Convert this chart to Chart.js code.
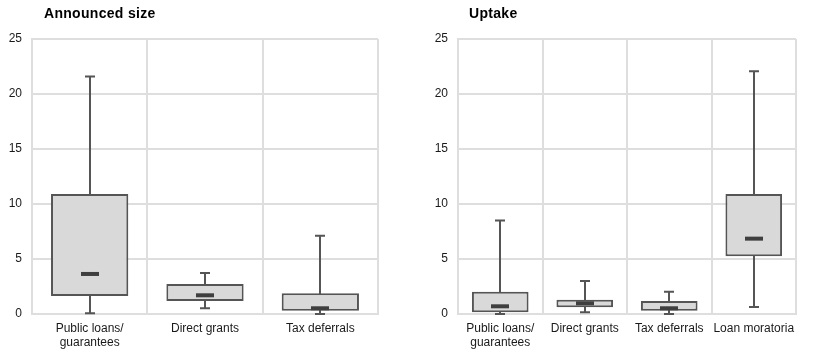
<!DOCTYPE html>
<html>
<head>
<meta charset="utf-8">
<script src="https://cdn.jsdelivr.net/npm/chart.js@4.4.0/dist/chart.umd.min.js"></script>
<style>
  body { margin: 0; background: #fff; font-family: "Liberation Sans", Arial, sans-serif; }
  #wrap { position: relative; width: 827px; height: 362px; }
  .panel { position: absolute; top: 0; }
  .title { position: absolute; top: 5px; font-weight: bold; font-size: 14px; letter-spacing: 0.3px; line-height: 16px; color: #000; }
</style>
</head>
<body>
<div id="wrap">
  <div class="panel" style="left:0"><canvas id="chartLeft" width="410" height="362"></canvas></div>
  <div class="panel" style="left:410px"><canvas id="chartRight" width="417" height="362"></canvas></div>
  <div class="title" style="left:44px">Announced size</div>
  <div class="title" style="left:469px">Uptake</div>
</div>
<script>
// Announced size
const leftCats = [["Public loans/", "guarantees"], "Direct grants", "Tax deferrals"];
const leftMin = [0.06, 0.52, 0];
const leftQ1 = [1.64, 1.18, 0.3];
const leftMed = [3.64, 1.7, 0.52];
const leftQ3 = [10.9, 2.73, 1.88];
const leftMax = [21.6, 3.73, 7.12];

// Uptake
const rightCats = [["Public loans/", "guarantees"], "Direct grants", "Tax deferrals", "Loan moratoria"];
const rightMin = [0, 0.15, 0, 0.64];
const rightQ1 = [0.15, 0.61, 0.3, 5.24];
const rightMed = [0.7, 0.97, 0.52, 6.85];
const rightQ3 = [2.03, 1.3, 1.18, 10.9];
const rightMax = [8.5, 3.0, 2.03, 22.06];

const yMin = 0, yMax = 25, yStep = 5;

const gridColor = "#dedede";
const boxLine = "#555555";

// whiskers, caps and median marks drawn on the chart scales
const boxExtras = {
  id: "boxExtras",
  afterDatasetsDraw(chart, args, opts) {
    const ctx = chart.ctx;
    const y = chart.scales.y;
    const meta = chart.getDatasetMeta(0);
    ctx.save();
    meta.data.forEach((bar, i) => {
      const x = Math.round(bar.x);
      const yLo = y.getPixelForValue(opts.min[i]);
      const yQ1 = y.getPixelForValue(opts.q1[i]);
      const yQ3 = y.getPixelForValue(opts.q3[i]);
      const yHi = y.getPixelForValue(opts.max[i]);
      ctx.strokeStyle = boxLine;
      ctx.lineWidth = 2;
      ctx.beginPath();
      ctx.moveTo(x, yQ3 + 1); ctx.lineTo(x, yHi);
      ctx.moveTo(x - 5, yHi); ctx.lineTo(x + 5, yHi);
      ctx.moveTo(x, yQ1 - 1); ctx.lineTo(x, yLo);
      ctx.moveTo(x - 5, yLo); ctx.lineTo(x + 5, yLo);
      ctx.stroke();
      const yM = y.getPixelForValue(opts.med[i]);
      ctx.fillStyle = "#3f3f3f";
      ctx.fillRect(x - 9, yM - 2, 18, 4);
    });
    ctx.restore();
  }
};

function makeChart(id, cats, mins, q1s, meds, q3s, maxs, yWidth, padRight) {
  return new Chart(id, {
    type: "bar",
    data: {
      labels: cats,
      datasets: [
        {
          data: q1s.map((q, i) => [q, q3s[i]]),
          backgroundColor: "#d9d9d9",
          borderColor: boxLine,
          borderWidth: 2,
          borderSkipped: false,
          categoryPercentage: 1,
          barPercentage: 0.67,
        },
      ],
    },
    options: {
      responsive: false,
      animation: false,
      devicePixelRatio: 1,
      layout: { padding: { top: 39, right: padRight, left: 0, bottom: 0 } },
      plugins: {
        legend: { display: false },
        tooltip: { enabled: false },
        boxExtras: { min: mins, q1: q1s, med: meds, q3: q3s, max: maxs },
      },
      scales: {
        x: {
          grid: { color: gridColor, lineWidth: 2, drawTicks: false, offset: true },
          border: { color: gridColor, width: 2 },
          ticks: {
            color: "#1a1a1a",
            font: { family: "Liberation Sans", size: 12, lineHeight: 1.15 },
            padding: 8,
            maxRotation: 0,
            autoSkip: false,
          },
          afterFit(scale) { scale.height = 48; },
        },
        y: {
          min: yMin,
          max: yMax,
          grid: { color: gridColor, lineWidth: 2, drawTicks: false },
          border: { color: gridColor, width: 2 },
          ticks: {
            stepSize: yStep,
            color: "#1a1a1a",
            font: { family: "Liberation Sans", size: 12 },
            padding: 10,
          },
          afterFit(scale) { scale.width = yWidth; },
        },
      },
    },
    plugins: [boxExtras],
  });
}

makeChart("chartLeft", leftCats, leftMin, leftQ1, leftMed, leftQ3, leftMax, 32, 32);
makeChart("chartRight", rightCats, rightMin, rightQ1, rightMed, rightQ3, rightMax, 48, 31);
</script>
</body>
</html>
